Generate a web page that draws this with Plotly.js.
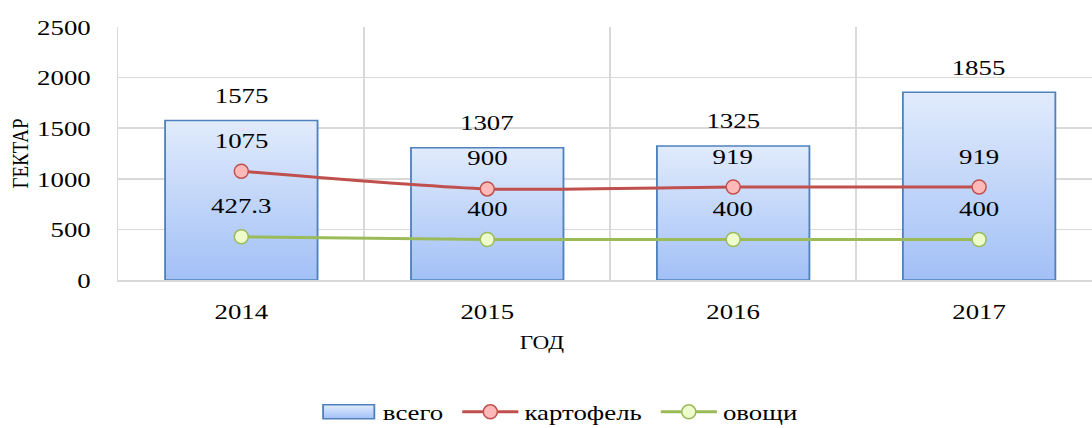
<!DOCTYPE html>
<html><head><meta charset="utf-8">
<script src="https://cdn.plot.ly/plotly-3.0.1.min.js"></script>
<style>
html,body{margin:0;padding:0;background:#fff;overflow:hidden;}
#wrap{width:1092px;height:428px;overflow:hidden;}
#chart{width:895px;height:428px;transform:scaleX(1.22011);transform-origin:0 0;}
</style>
</head><body><div id="wrap"><div id="chart"></div></div>
<script>
const years = ['2014', '2015', '2016', '2017'];
const total = [1575, 1307, 1325, 1855];
const potato = [1075, 900, 919, 919];
const veg = [427.3, 400, 400, 400];
const totalLabels = ['1575', '1307', '1325', '1855'];
const potatoLabels = ['1075', '900', '919', '919'];
const vegLabels = ['427.3', '400', '400', '400'];
const seriesNames = ['всего', 'картофель', 'овощи'];

const S = 1092 / 895;           // horizontal stretch of the reference
const FONT = 'Liberation Serif, serif';
const W = 895, H = 428;
const L = 118 / S;
const PAD = '\u00a0';

const traces = [
  {type: 'bar', name: seriesNames[0] + PAD, x: years, y: total, width: 0.62,
   marker: {color: '#c3d6f9', line: {color: '#4f81bd', width: 1.5}}, hoverinfo: 'none'},
  {type: 'scatter', mode: 'lines+markers', name: seriesNames[1] + PAD, x: years, y: potato,
   line: {color: '#c0504d', width: 3, shape: 'spline', smoothing: 0.6},
   marker: {symbol: 'circle', size: 14, color: '#ffb9b9', line: {color: '#c0504d', width: 1.5}}, hoverinfo: 'none'},
  {type: 'scatter', mode: 'lines+markers', name: seriesNames[2], x: years, y: veg,
   line: {color: '#9bbb59', width: 3},
   marker: {symbol: 'circle', size: 14, color: '#eefccb', line: {color: '#9bbb59', width: 1.5}}, hoverinfo: 'none'}
];

const annotations = [];
years.forEach((yr, i) => {
  annotations.push({xref: 'x', yref: 'y', x: i, y: total[i], text: totalLabels[i], showarrow: false, yanchor: 'middle', yshift: 25, font: {family: FONT, size: 22, color: '#000'}});
  annotations.push({xref: 'x', yref: 'y', x: i, y: potato[i], text: potatoLabels[i], showarrow: false, yanchor: 'middle', yshift: 31, font: {family: FONT, size: 22, color: '#000'}});
  annotations.push({xref: 'x', yref: 'y', x: i, y: veg[i], text: vegLabels[i], showarrow: false, yanchor: 'middle', yshift: 31, font: {family: FONT, size: 22, color: '#000'}});
});
annotations.push({xref: 'paper', yref: 'paper', x: (542 - 118) / 974, y: -(342 - 280) / 253, text: 'ГОД', showarrow: false, xanchor: 'center', yanchor: 'middle', font: {family: FONT, size: 19, color: '#000'}});

const layout = {
  width: W, height: H,
  margin: {l: L, r: 0, t: 27, b: 148, pad: 0, autoexpand: false},
  paper_bgcolor: '#fff', plot_bgcolor: '#fff',
  font: {family: FONT, size: 22, color: '#000'},
  showlegend: true,
  legend: {orientation: 'h', x: (559 - 118) / 974, xanchor: 'center', y: -(412 - 280) / 253, yanchor: 'middle', itemwidth: 46,
           font: {family: FONT, size: 22, color: '#000'}, traceorder: 'normal'},
  xaxis: {type: 'category', range: [-0.5, 3.459], tickson: 'boundaries', showgrid: true, gridcolor: '#d9d9d9', gridwidth: 1.5,
          showline: true, linecolor: '#d9d9d9', linewidth: 1.5, ticks: '', ticklen: 0, ticklabelstandoff: 11,
          tickfont: {family: FONT, size: 22, color: '#000'}, fixedrange: true},
  yaxis: {range: [0, 2500], dtick: 500, showgrid: true, gridcolor: '#d9d9d9', gridwidth: 1.5, zeroline: false,
          showline: true, linecolor: '#d9d9d9', linewidth: 1.2, ticks: '', ticklen: 0, ticklabelstandoff: 17,
          tickfont: {family: FONT, size: 22, color: '#000'}, fixedrange: true,
          title: {text: 'ГЕКТАР', font: {family: FONT, size: 19, color: '#000'}, standoff: 1}},
  annotations: annotations,
  hovermode: false
};

Plotly.newPlot('chart', traces, layout, {displayModeBar: false, staticPlot: true}).then(gd => {
  const svg = gd.querySelector('svg.main-svg');
  const ns = 'http://www.w3.org/2000/svg';
  let defs = svg.querySelector('defs');
  if (!defs) { defs = document.createElementNS(ns, 'defs'); svg.insertBefore(defs, svg.firstChild); }
  const g = document.createElementNS(ns, 'linearGradient');
  g.setAttribute('id', 'barGrad'); g.setAttribute('x1', '0'); g.setAttribute('y1', '0'); g.setAttribute('x2', '0'); g.setAttribute('y2', '1');
  [['0', '#e1ebfc'], ['1', '#a2c0f6']].forEach(([o, c]) => {
    const s = document.createElementNS(ns, 'stop'); s.setAttribute('offset', o); s.setAttribute('stop-color', c); g.appendChild(s);
  });
  defs.appendChild(g);
  gd.querySelectorAll('.bars .point path').forEach(p => { p.style.fill = 'url(#barGrad)'; });
  gd.querySelectorAll('.legendpoints path').forEach(p => {
    if ((p.style.fill || '').indexOf('195, 214, 249') >= 0) {
      p.setAttribute('d', 'M-21,-7H21V7H-21Z');
      p.style.fill = 'url(#barGrad)';
    }
  });
  // keep round markers round despite the horizontal stretch
  gd.querySelectorAll('.scatterlayer .points path.point, .legendpoints .scatterpts path, .legend .legendpoints path.scatterpts').forEach(p => {
    const t = p.getAttribute('transform') || '';
    p.setAttribute('transform', t + ' scale(' + (1 / S) + ',1)');
  });
});
</script>
</body></html>
